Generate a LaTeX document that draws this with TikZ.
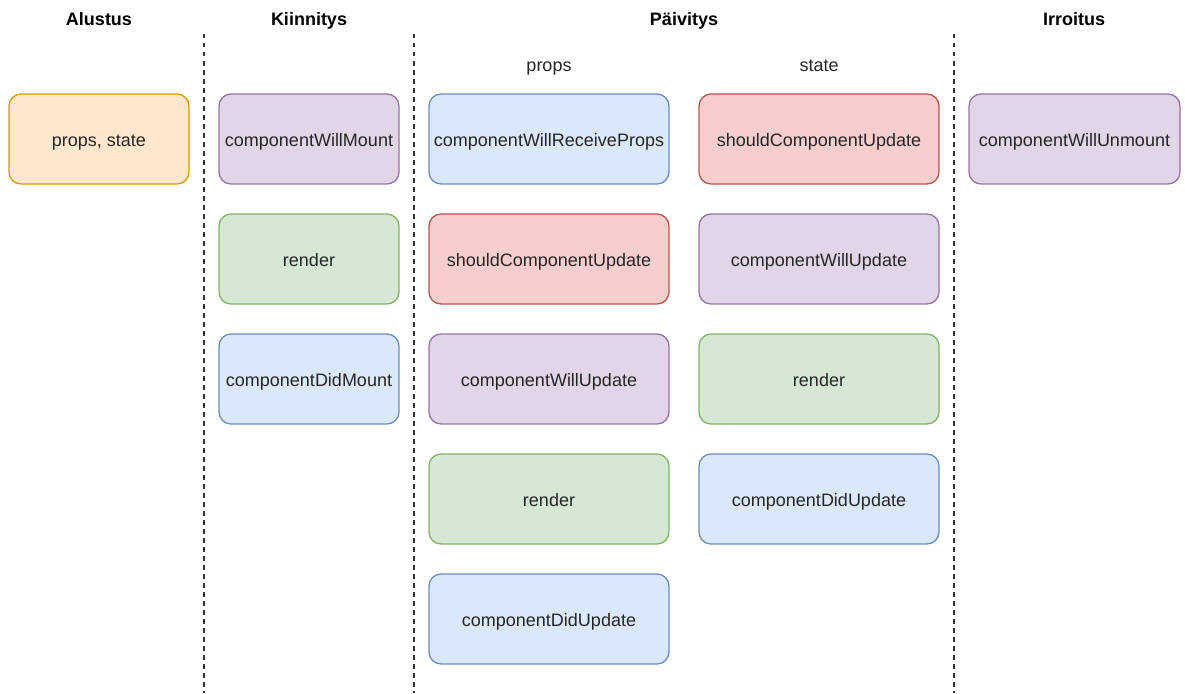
\documentclass[tikz,border=0pt]{standalone}
\usepackage{fontspec}
\setmainfont{Liberation Sans}
\definecolor{orangeF}{HTML}{FFE6CC}\definecolor{orangeD}{HTML}{D79B00}
\definecolor{purpleF}{HTML}{E1D5E7}\definecolor{purpleD}{HTML}{9673A6}
\definecolor{greenF}{HTML}{D5E8D4}\definecolor{greenD}{HTML}{82B366}
\definecolor{blueF}{HTML}{DAE8FC}\definecolor{blueD}{HTML}{6C8EBF}
\definecolor{redF}{HTML}{F8CECC}\definecolor{redD}{HTML}{B85450}
\tikzset{
  phase/.style={rectangle, rounded corners=12pt, line width=1.3pt,
    minimum height=90pt, inner sep=0pt, text height=15pt, text depth=0pt,
    font=\fontsize{18}{22}\selectfont, text=black!85},
  narrow/.style={phase, minimum width=180pt},
  wide/.style={phase, minimum width=240pt},
  orangebox/.style={fill=orangeF, draw=orangeD},
  purplebox/.style={fill=purpleF, draw=purpleD},
  greenbox/.style={fill=greenF, draw=greenD},
  bluebox/.style={fill=blueF, draw=blueD},
  redbox/.style={fill=redF, draw=redD},
  heading/.style={anchor=base, font=\bfseries\fontsize{18}{22}\selectfont, text=black},
  sublabel/.style={anchor=base, font=\fontsize{18}{22}\selectfont, text=black!85},
  divider/.style={line width=1.2pt, black!80, dash pattern=on 4.5pt off 4.5pt},
}
\begin{document}
\begin{tikzpicture}[x=1pt, y=-1pt]
\useasboundingbox (0,0) rectangle (1185,693);

% column headings
\node[heading] (hAlustus) at (99,26) {Alustus};
\node[heading] (hKiinnitys) at (309,26) {Kiinnitys};
\node[heading] (hPaivitys) at (684,26) {Päivitys};
\node[heading] (hIrroitus) at (1074,26) {Irroitus};
\node[sublabel] (sProps) at (549,71) {props};
\node[sublabel] (sState) at (819,71) {state};

% column dividers
\coordinate (d1t) at (204,34); \coordinate (d1b) at (204,693);
\coordinate (d2t) at (414,34); \coordinate (d2b) at (414,693);
\coordinate (d3t) at (954,34); \coordinate (d3b) at (954,693);
\draw[divider] (d1t) -- (d1b);
\draw[divider] (d2t) -- (d2b);
\draw[divider] (d3t) -- (d3b);

% initialisation
\node[narrow, orangebox] (init) at (99,139) {props, state};

% mounting
\node[narrow, purplebox] (willMount) at (309,139) {componentWillMount};
\node[narrow, greenbox] (mRender) at (309,259) {render};
\node[narrow, bluebox] (didMount) at (309,379) {componentDidMount};

% updating from props
\node[wide, bluebox] (pReceive) at (549,139) {componentWillReceiveProps};
\node[wide, redbox] (pShould) at (549,259) {shouldComponentUpdate};
\node[wide, purplebox] (pWill) at (549,379) {componentWillUpdate};
\node[wide, greenbox] (pRender) at (549,499) {render};
\node[wide, bluebox] (pDid) at (549,619) {componentDidUpdate};

% updating from state
\node[wide, redbox] (sShould) at (819,139) {shouldComponentUpdate};
\node[wide, purplebox] (sWill) at (819,259) {componentWillUpdate};
\node[wide, greenbox] (sRender) at (819,379) {render};
\node[wide, bluebox] (sDid) at (819,499) {componentDidUpdate};

% unmounting
\node[phase, minimum width=211pt, purplebox] (unmount) at (1074.5,139) {componentWillUnmount};
\end{tikzpicture}
\end{document}
